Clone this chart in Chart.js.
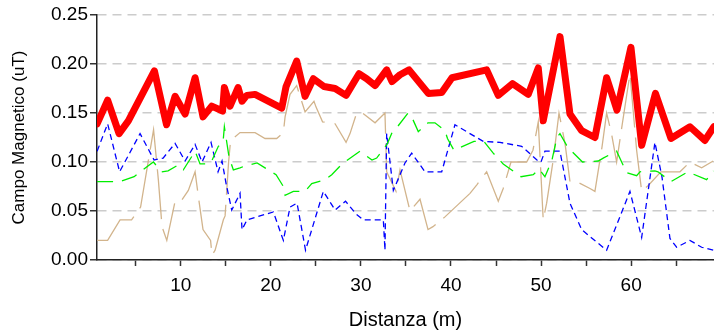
<!DOCTYPE html>
<html>
<head>
<meta charset="utf-8">
<script src="https://cdn.jsdelivr.net/npm/chart.js@4.4.1/dist/chart.umd.min.js"></script>
<style>
  html, body { margin: 0; padding: 0; background: #fff; }
  #grafico { display: block; }
</style>
</head>
<body>
<canvas id="grafico" width="714" height="332"></canvas>
<script>
// distanze (m) e campo magnetico (uT)
const xRosso = [0.71, 1.88, 3.15, 4.18, 7.07, 8.42, 9.37, 10.48, 11.59, 12.47, 13.44, 14.64, 14.84, 15.47, 16.36, 16.80, 17.33, 18.25, 21.21, 21.69, 22.87, 23.80, 24.72, 25.90, 27.13, 28.35, 29.79, 30.64, 31.57, 32.86, 33.45, 34.34, 35.34, 37.48, 38.97, 40.11, 43.96, 45.25, 46.83, 48.58, 49.69, 50.24, 52.10, 53.21, 54.51, 55.98, 57.28, 58.43, 59.98, 61.17, 62.70, 64.42, 66.53, 68.19, 69.19];
const yRosso = [0.139, 0.163, 0.129, 0.142, 0.193, 0.138, 0.167, 0.149, 0.186, 0.146, 0.157, 0.152, 0.176, 0.157, 0.176, 0.162, 0.168, 0.169, 0.155, 0.177, 0.203, 0.167, 0.185, 0.177, 0.175, 0.168, 0.190, 0.185, 0.178, 0.194, 0.182, 0.189, 0.194, 0.170, 0.171, 0.186, 0.194, 0.168, 0.180, 0.169, 0.196, 0.142, 0.228, 0.149, 0.132, 0.125, 0.186, 0.153, 0.217, 0.117, 0.170, 0.124, 0.136, 0.122, 0.136];

const xBlu = [0.71, 1.88, 3.21, 5.48, 7.04, 8.04, 9.37, 10.48, 11.59, 12.36, 13.36, 14.14, 14.58, 15.03, 15.66, 16.58, 16.80, 17.36, 20.28, 21.39, 22.13, 22.91, 23.85, 25.83, 27.13, 28.29, 29.46, 30.27, 32.49, 32.67, 32.86, 33.60, 34.89, 35.64, 37.11, 38.97, 40.44, 43.58, 45.44, 47.85, 49.54, 49.99, 50.43, 52.10, 53.21, 54.51, 55.55, 57.28, 59.87, 61.17, 62.64, 63.42, 64.31, 65.05, 66.53, 67.83, 69.11];
const yBlu = [0.111, 0.139, 0.090, 0.129, 0.102, 0.104, 0.119, 0.101, 0.118, 0.100, 0.120, 0.090, 0.101, 0.078, 0.051, 0.068, 0.031, 0.041, 0.049, 0.020, 0.054, 0.058, 0.010, 0.070, 0.051, 0.060, 0.047, 0.041, 0.041, 0.010, 0.129, 0.071, 0.099, 0.109, 0.090, 0.090, 0.138, 0.121, 0.120, 0.116, 0.102, 0.100, 0.111, 0.111, 0.058, 0.031, 0.023, 0.010, 0.070, 0.023, 0.120, 0.085, 0.022, 0.013, 0.020, 0.013, 0.010];

const xVerde = [0.71, 3.26, 4.82, 5.48, 6.96, 7.89, 8.59, 9.73, 10.29, 11.59, 12.14, 13.14, 13.48, 14.17, 14.69, 14.84, 15.36, 15.84, 16.58, 17.14, 18.47, 20.58, 21.39, 21.58, 22.50, 23.80, 24.54, 26.02, 26.76, 27.90, 29.90, 31.23, 31.75, 32.90, 33.45, 34.06, 35.23, 35.64, 36.37, 37.45, 38.22, 39.33, 39.61, 40.33, 42.55, 43.66, 44.69, 45.80, 47.77, 49.13, 49.77, 50.43, 51.21, 51.76, 52.10, 52.84, 53.40, 54.60, 56.35, 56.90, 58.39, 59.50, 60.61, 60.98, 62.64, 62.98, 64.42, 66.30, 66.80, 68.38, 69.13];
const yVerde = [0.080, 0.080, 0.085, 0.090, 0.100, 0.090, 0.091, 0.097, 0.092, 0.111, 0.098, 0.098, 0.102, 0.116, 0.120, 0.136, 0.105, 0.092, 0.094, 0.096, 0.099, 0.087, 0.075, 0.066, 0.070, 0.070, 0.078, 0.082, 0.087, 0.098, 0.111, 0.102, 0.104, 0.118, 0.130, 0.136, 0.150, 0.146, 0.131, 0.140, 0.140, 0.132, 0.124, 0.112, 0.121, 0.121, 0.109, 0.098, 0.085, 0.087, 0.093, 0.085, 0.102, 0.125, 0.129, 0.117, 0.111, 0.100, 0.101, 0.104, 0.111, 0.089, 0.086, 0.090, 0.091, 0.090, 0.080, 0.090, 0.088, 0.082, 0.091];

const xMarrone = [0.71, 1.88, 3.26, 4.54, 5.54, 6.98, 7.51, 7.92, 8.45, 9.37, 10.03, 10.84, 11.59, 11.95, 12.47, 13.31, 13.47, 13.81, 14.73, 14.92, 15.31, 15.53, 16.58, 18.25, 19.36, 20.65, 21.39, 21.58, 22.13, 22.87, 23.80, 24.79, 25.02, 25.74, 27.13, 28.35, 28.79, 29.53, 30.18, 31.57, 32.67, 32.86, 33.90, 34.34, 35.45, 36.56, 37.45, 38.00, 39.33, 42.11, 42.89, 43.96, 45.25, 45.80, 46.66, 48.40, 49.10, 49.69, 50.24, 50.62, 51.35, 51.99, 52.66, 53.21, 53.95, 55.43, 55.98, 56.76, 57.28, 57.84, 58.39, 58.94, 59.87, 60.61, 61.17, 61.90, 63.30, 64.31, 65.42, 66.53, 67.83, 69.11];
const yMarrone = [0.020, 0.020, 0.041, 0.041, 0.054, 0.133, 0.082, 0.034, 0.020, 0.060, 0.060, 0.071, 0.090, 0.065, 0.031, 0.020, 0.005, 0.010, 0.041, 0.045, 0.100, 0.122, 0.130, 0.130, 0.124, 0.124, 0.130, 0.146, 0.169, 0.178, 0.151, 0.162, 0.156, 0.141, 0.139, 0.120, 0.129, 0.150, 0.150, 0.140, 0.150, 0.090, 0.070, 0.092, 0.050, 0.062, 0.031, 0.034, 0.044, 0.068, 0.077, 0.090, 0.060, 0.073, 0.100, 0.100, 0.112, 0.141, 0.041, 0.058, 0.102, 0.150, 0.119, 0.080, 0.080, 0.073, 0.070, 0.115, 0.150, 0.128, 0.100, 0.134, 0.190, 0.112, 0.070, 0.076, 0.090, 0.090, 0.090, 0.100, 0.094, 0.101];

const tickX = [5, 10, 15, 20, 25, 30, 35, 40, 45, 50, 55, 60, 65];

function punti(xs, ys) {
    return xs.map((x, i) => ({ x: x, y: ys[i] }));
}

const ctx = document.getElementById('grafico');

new Chart(ctx, {
    type: 'line',
    data: {
        datasets: [{
            label: 'Rosso',
            data: punti(xRosso, yRosso),
            borderColor: '#ff0000',
            borderWidth: 7,
            borderJoinStyle: 'round',
            borderCapStyle: 'round'
        }, {
            label: 'Verde',
            data: punti(xVerde, yVerde),
            borderColor: '#00ee00',
            borderWidth: 1.3,
            borderDash: [16, 9]
        }, {
            label: 'Blu',
            data: punti(xBlu, yBlu),
            borderColor: '#0000ff',
            borderWidth: 1.3,
            borderDash: [6, 4]
        }, {
            label: 'Marrone',
            data: punti(xMarrone, yMarrone),
            borderColor: '#d2b48c',
            borderWidth: 1.3,
            borderDash: [50, 10]
        }]
    },
    options: {
        responsive: false,
        animation: false,
        devicePixelRatio: 1,
        layout: { padding: { top: 15, right: 0, left: 0, bottom: 0 } },
        elements: { point: { radius: 0 }, line: { tension: 0 } },
        plugins: { legend: { display: false }, tooltip: { enabled: false } },
        scales: {
            x: {
                type: 'linear',
                min: 0.7,
                max: 69.2,
                afterBuildTicks: (axis) => { axis.ticks = tickX.map(v => ({ value: v })); },
                afterFit: (axis) => { axis.height = 72; },
                ticks: {
                    autoSkip: false,
                    maxRotation: 0,
                    padding: 8,
                    color: '#000',
                    font: { family: 'Liberation Sans', size: 19 },
                    callback: (v) => (v % 10 === 0 ? String(v) : '')
                },
                grid: {
                    drawOnChartArea: false,
                    drawTicks: true,
                    tickLength: 6,
                    tickColor: '#333',
                    tickWidth: 1.5
                },
                border: { display: true, color: '#222', width: 1.5 },
                title: {
                    display: true,
                    text: 'Distanza (m)',
                    color: '#000',
                    font: { family: 'Liberation Sans', size: 20 },
                    padding: { top: 0, bottom: 0 }
                }
            },
            y: {
                min: 0,
                max: 0.25,
                afterFit: (axis) => { axis.width = 97; },
                ticks: {
                    stepSize: 0.05,
                    padding: 2,
                    color: '#000',
                    font: { family: 'Liberation Sans', size: 19 },
                    callback: (v) => v.toFixed(2)
                },
                grid: {
                    color: '#cccccc',
                    lineWidth: 1.5,
                    tickLength: 7,
                    tickColor: '#333',
                    tickWidth: 1.5
                },
                border: { display: true, color: '#222', width: 1.5, dash: [9, 6] },
                title: {
                    display: true,
                    text: 'Campo Magnetico (uT)',
                    color: '#000',
                    font: { family: 'Liberation Sans', size: 17 },
                    padding: { top: 9, bottom: 0 }
                }
            }
        }
    }
});
</script>
</body>
</html>
